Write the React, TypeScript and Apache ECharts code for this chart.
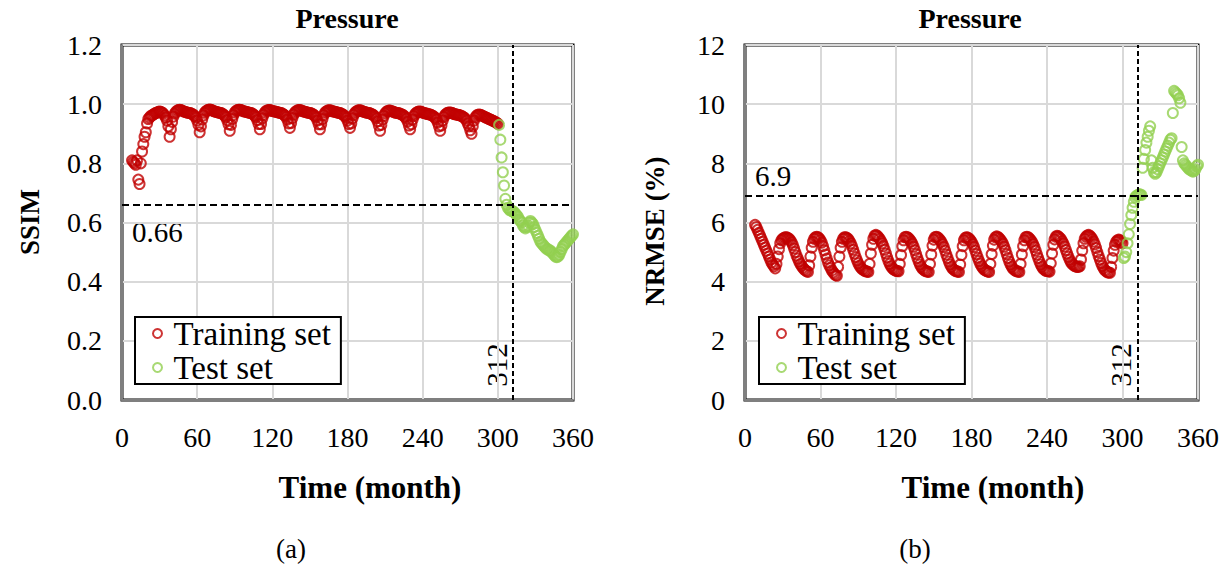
import React, { useEffect, useRef } from "react";
import * as echarts from "echarts";

const FONT = "Liberation Serif";
const RED = "#c00000";
const GREEN = "#92d050";

const trainStartMonth = 8;
const testStartMonth = 301;

// SSIM, training set, monthly from month 8 to 300
const ssimTrain = [
  0.81, 0.805, 0.8, 0.795, 0.81, 0.745, 0.73, 0.8, 0.84, 0.865,
  0.89, 0.905, 0.935, 0.95, 0.955, 0.96, 0.962, 0.965, 0.968, 0.97,
  0.972, 0.974, 0.975, 0.974, 0.972, 0.968, 0.962, 0.955, 0.945, 0.925,
  0.89, 0.915, 0.94, 0.958, 0.968, 0.974, 0.978, 0.98, 0.981, 0.98,
  0.978, 0.976, 0.974, 0.973, 0.972, 0.971, 0.97, 0.969, 0.967, 0.964,
  0.96, 0.955, 0.945, 0.93,
  0.905, 0.925, 0.948, 0.962, 0.971, 0.976, 0.979, 0.981, 0.982, 0.981,
  0.979, 0.977, 0.975, 0.974, 0.973, 0.972, 0.971, 0.97, 0.968, 0.965,
  0.961, 0.956, 0.946, 0.932,
  0.91, 0.93, 0.95, 0.963, 0.972, 0.977, 0.98, 0.981, 0.981, 0.98,
  0.978, 0.976, 0.975, 0.974, 0.973, 0.972, 0.971, 0.97, 0.968, 0.965,
  0.961, 0.956, 0.946, 0.933,
  0.915, 0.933, 0.952, 0.964, 0.972, 0.977, 0.979, 0.98, 0.98, 0.979,
  0.977, 0.976, 0.975, 0.974, 0.973, 0.972, 0.971, 0.97, 0.968, 0.965,
  0.962, 0.957, 0.948, 0.935,
  0.92, 0.936, 0.953, 0.965, 0.972, 0.976, 0.979, 0.98, 0.98, 0.979,
  0.977, 0.975, 0.974, 0.973, 0.972, 0.971, 0.97, 0.969, 0.967, 0.964,
  0.96, 0.955, 0.945, 0.932,
  0.915, 0.932, 0.95, 0.963, 0.971, 0.975, 0.978, 0.979, 0.979, 0.978,
  0.976, 0.975, 0.974, 0.973, 0.972, 0.971, 0.97, 0.968, 0.966, 0.963,
  0.959, 0.954, 0.945, 0.933,
  0.92, 0.935, 0.952, 0.964, 0.971, 0.975, 0.978, 0.979, 0.979, 0.978,
  0.976, 0.974, 0.973, 0.972, 0.971, 0.97, 0.969, 0.967, 0.965, 0.962,
  0.958, 0.952, 0.942, 0.928,
  0.91, 0.93, 0.948, 0.961, 0.969, 0.974, 0.977, 0.978, 0.978, 0.977,
  0.975, 0.973, 0.972, 0.971, 0.97, 0.969, 0.968, 0.966, 0.964, 0.961,
  0.957, 0.951, 0.941, 0.928,
  0.915, 0.932, 0.948, 0.96, 0.967, 0.971, 0.974, 0.975, 0.975, 0.974,
  0.972, 0.97, 0.969, 0.968, 0.967, 0.966, 0.965, 0.963, 0.961, 0.958,
  0.954, 0.948, 0.938, 0.925,
  0.91, 0.928, 0.945, 0.957, 0.964, 0.968, 0.971, 0.972, 0.972, 0.971,
  0.969, 0.967, 0.966, 0.965, 0.964, 0.963, 0.962, 0.96, 0.958, 0.955,
  0.951, 0.945, 0.935,
  0.925, 0.912, 0.9, 0.925, 0.945, 0.955, 0.961, 0.964, 0.965, 0.964,
  0.962, 0.96, 0.958, 0.956, 0.954, 0.952, 0.95, 0.948, 0.946, 0.944,
  0.942, 0.94, 0.937, 0.934,
];

// SSIM, test set, monthly from month 301 to 360
const ssimTest = [
  0.93, 0.88, 0.82, 0.77, 0.725, 0.68, 0.66, 0.65, 0.645, 0.64,
  0.64, 0.638, 0.635, 0.63, 0.625, 0.62, 0.61, 0.605, 0.6, 0.59,
  0.585, 0.58, 0.585, 0.59, 0.6, 0.605, 0.6, 0.595, 0.585, 0.575,
  0.565, 0.555, 0.545, 0.535, 0.53, 0.525, 0.52, 0.515, 0.51, 0.51,
  0.505, 0.505, 0.5, 0.495, 0.49, 0.485, 0.483, 0.485, 0.49, 0.5,
  0.51, 0.52, 0.525, 0.53, 0.535, 0.54, 0.545, 0.55, 0.555, 0.56,
];

// NRMSE (%), training set, monthly from month 8 to 300
const nrmseTrain = [
  5.92, 5.85, 5.75, 5.65, 5.55, 5.45, 5.35, 5.25, 5.15, 5.05, 4.95, 4.85, 4.75, 4.65, 4.58, 4.52,
  4.45, 4.6, 4.85, 5.1, 5.3, 5.4, 5.45, 5.48, 5.5, 5.5, 5.48, 5.45, 5.4, 5.33, 5.24, 5.12, 5.0, 4.88, 4.78, 4.68, 4.6, 4.53, 4.47, 4.42, 4.38, 4.35,
  4.33, 4.55, 4.85, 5.15, 5.35, 5.45, 5.5, 5.52, 5.5, 5.46, 5.4, 5.32, 5.2, 5.06, 4.92, 4.78, 4.65, 4.55, 4.46, 4.38, 4.32, 4.27, 4.22,
  4.2, 4.5, 4.85, 5.15, 5.35, 5.45, 5.5, 5.5, 5.48, 5.44, 5.38, 5.3, 5.2, 5.08, 4.95, 4.83, 4.72, 4.62, 4.54, 4.48, 4.43, 4.4, 4.37, 4.35, 4.34,
  4.33, 4.6, 4.95, 5.25, 5.45, 5.55, 5.58, 5.55, 5.5, 5.45, 5.38, 5.3, 5.2, 5.08, 4.95, 4.82, 4.7, 4.6, 4.52, 4.46, 4.42, 4.39, 4.37, 4.36,
  4.35, 4.6, 4.9, 5.2, 5.4, 5.5, 5.52, 5.5, 5.47, 5.42, 5.36, 5.28, 5.18, 5.06, 4.93, 4.8, 4.68, 4.58, 4.5, 4.44, 4.4, 4.37, 4.35, 4.34,
  4.33, 4.6, 4.92, 5.22, 5.42, 5.5, 5.52, 5.5, 5.46, 5.41, 5.35, 5.27, 5.17, 5.05, 4.92, 4.8, 4.68, 4.58, 4.5, 4.44, 4.4, 4.37, 4.35, 4.34,
  4.33, 4.58, 4.9, 5.2, 5.4, 5.48, 5.5, 5.49, 5.46, 5.41, 5.35, 5.27, 5.17, 5.05, 4.93, 4.81, 4.7, 4.6, 4.52, 4.46, 4.41, 4.38, 4.36, 4.34,
  4.33, 4.6, 4.93, 5.22, 5.42, 5.5, 5.53, 5.51, 5.47, 5.42, 5.36, 5.28, 5.18, 5.06, 4.93, 4.8, 4.68, 4.58, 4.5, 4.44, 4.4, 4.37, 4.35, 4.34,
  4.33, 4.6, 4.92, 5.2, 5.4, 5.5, 5.52, 5.5, 5.46, 5.41, 5.35, 5.27, 5.17, 5.05, 4.92, 4.8, 4.68, 4.58, 4.5, 4.44, 4.4, 4.37, 4.36, 4.35,
  4.34, 4.62, 4.95, 5.25, 5.43, 5.52, 5.55, 5.53, 5.49, 5.44, 5.37, 5.29, 5.19, 5.07, 4.95, 4.84, 4.74, 4.66, 4.6, 4.56, 4.53, 4.51, 4.5, 4.5,
  4.52, 4.75, 5.05, 5.3, 5.45, 5.52, 5.56, 5.58, 5.55, 5.5, 5.44, 5.36, 5.26, 5.14, 5.0, 4.87, 4.75, 4.63, 4.53, 4.45, 4.39, 4.35, 4.32, 4.31,
  4.3, 4.5, 4.8, 5.05, 5.25, 5.35, 5.4, 5.42, 5.4, 5.35, 5.3,
];

// NRMSE (%), test set, monthly from month 301 to 360
const nrmseTest = [
  4.8, 4.85, 5.0, 5.3, 5.6, 5.95, 6.25, 6.5, 6.7, 6.85,
  6.9, 6.92, 6.95, 6.95, 6.93, 7.85, 8.15, 8.45, 8.7, 8.9,
  9.1, 9.25, 8.1, 7.85, 7.7, 7.65, 7.7, 7.8, 7.9, 8.0,
  8.1, 8.2, 8.3, 8.4, 8.5, 8.6, 8.7, 8.8, 8.85, 9.7,
  10.45, 10.4, 10.35, 10.3, 10.2, 10.05, 8.55, 8.1, 8.0, 7.95,
  7.9, 7.85, 7.8, 7.78, 7.75, 7.72, 7.75, 7.8, 7.9, 7.95,
];

const ssimThreshold = 0.66;
const nrmseThreshold = 6.9;
const splitMonth = 312;
const legendNames = ["Training set", "Test set"];

const toPairs = (vals: number[], start: number) => vals.map((v, i) => [start + i, v]);

const txt = (x: number, y: number, text: string, size: number, opts: any = {}) => ({
  type: "text",
  x,
  y,
  rotation: opts.rotation || 0,
  silent: true,
  style: {
    text,
    fontFamily: FONT,
    fontSize: size,
    fontWeight: opts.bold ? "bold" : "normal",
    fill: "#000",
    align: opts.align || "center",
    verticalAlign: "middle",
  },
});

const xAxisFor = (gridIndex: number) => ({
  type: "value",
  gridIndex,
  min: 0,
  max: 360,
  interval: 60,
  axisLine: { show: true, onZero: false, lineStyle: { color: "#7f7f7f", width: 2 } },
  axisTick: { show: false },
  splitLine: { show: true, lineStyle: { color: "#d9d9d9", width: 2 } },
  axisLabel: { fontFamily: FONT, fontSize: 28, color: "#000", margin: 23 },
});

const scatter = (name: string, color: string, data: number[][], axis: number, markLine?: any) => ({
  type: "scatter",
  name,
  xAxisIndex: axis,
  yAxisIndex: axis,
  symbol: "circle",
  symbolSize: 10,
  itemStyle: { color: "rgba(255,255,255,0)", borderColor: color, borderWidth: 2 },
  data,
  markLine,
});

const mk = (yVal: number) => ({
  silent: true,
  symbol: "none",
  label: { show: false },
  animation: false,
  data: [
    { yAxis: yVal, lineStyle: { color: "#000", width: 2, type: [7, 4] } },
    { xAxis: splitMonth, lineStyle: { color: "#000", width: 2, type: [5, 3] } },
  ],
});

const legendFor = (left: number) => ({
  orient: "vertical",
  left,
  top: 317,
  backgroundColor: "#fff",
  borderColor: "#000",
  borderWidth: 2,
  padding: [0, 10, 0, 17],
  itemGap: 1,
  itemWidth: 22,
  itemHeight: 9,
  icon: "circle",
  selectedMode: false,
  textStyle: { fontFamily: FONT, fontSize: 33, color: "#000", lineHeight: 33 },
  data: [
    { name: legendNames[0], itemStyle: { color: "rgba(255,255,255,0)", borderColor: RED, borderWidth: 2 } },
    { name: legendNames[1], itemStyle: { color: "rgba(255,255,255,0)", borderColor: GREEN, borderWidth: 2 } },
  ],
});

const option: any = {
  animation: false,
  backgroundColor: "#fff",
  textStyle: { fontFamily: FONT },
  grid: [
    { left: 122, top: 45, width: 451, height: 355, show: true, borderColor: "#000", borderWidth: 3, backgroundColor: "transparent" },
    { left: 745, top: 45, width: 453, height: 355, show: true, borderColor: "#000", borderWidth: 3, backgroundColor: "transparent" },
  ],
  xAxis: [xAxisFor(0), xAxisFor(1)],
  yAxis: [
    {
      type: "value",
      gridIndex: 0,
      min: 0,
      max: 1.2,
      interval: 0.2,
      axisLine: { show: true, onZero: false, lineStyle: { color: "#7f7f7f", width: 2 } },
      axisTick: { show: false },
      splitLine: { show: true, lineStyle: { color: "#d9d9d9", width: 2 } },
      axisLabel: { fontFamily: FONT, fontSize: 28, color: "#000", margin: 20, formatter: (v: number) => v.toFixed(1) },
    },
    {
      type: "value",
      gridIndex: 1,
      min: 0,
      max: 12,
      interval: 2,
      axisLine: { show: true, onZero: false, lineStyle: { color: "#7f7f7f", width: 2 } },
      axisTick: { show: false },
      splitLine: { show: true, lineStyle: { color: "#d9d9d9", width: 2 } },
      axisLabel: { fontFamily: FONT, fontSize: 28, color: "#000", margin: 20 },
    },
  ],
  legend: [legendFor(135), legendFor(759)],
  series: [
    scatter(legendNames[0], RED, toPairs(ssimTrain, trainStartMonth), 0),
    scatter(legendNames[1], GREEN, toPairs(ssimTest, testStartMonth), 0, mk(ssimThreshold)),
    scatter(legendNames[0], RED, toPairs(nrmseTrain, trainStartMonth), 1),
    scatter(legendNames[1], GREEN, toPairs(nrmseTest, testStartMonth), 1, mk(nrmseThreshold)),
  ],
  graphic: [
    txt(347, 18, "Pressure", 28, { bold: true }),
    txt(970, 18, "Pressure", 28, { bold: true }),
    txt(30, 222, "SSIM", 27, { bold: true, rotation: Math.PI / 2 }),
    txt(655, 231, "NRMSE (%)", 27, { bold: true, rotation: Math.PI / 2 }),
    txt(370, 487, "Time (month)", 31, { bold: true }),
    txt(993, 487, "Time (month)", 31, { bold: true }),
    txt(291, 549, "(a)", 27),
    txt(915, 549, "(b)", 27),
    txt(132, 232, String(ssimThreshold), 29, { align: "left" }),
    txt(755, 176, String(nrmseThreshold), 29, { align: "left" }),
    txt(497, 365, String(splitMonth), 29, { rotation: Math.PI / 2 }),
    txt(1121, 365, String(splitMonth), 29, { rotation: Math.PI / 2 }),
  ],
};

export default function App() {
  const ref = useRef<HTMLDivElement>(null);
  useEffect(() => {
    const chart = echarts.init(ref.current!, null, { renderer: "svg" });
    chart.setOption(option);
    return () => chart.dispose();
  }, []);
  return <div ref={ref} style={{ position: "fixed", left: 0, top: 0, width: 1231, height: 566 }} />;
}
